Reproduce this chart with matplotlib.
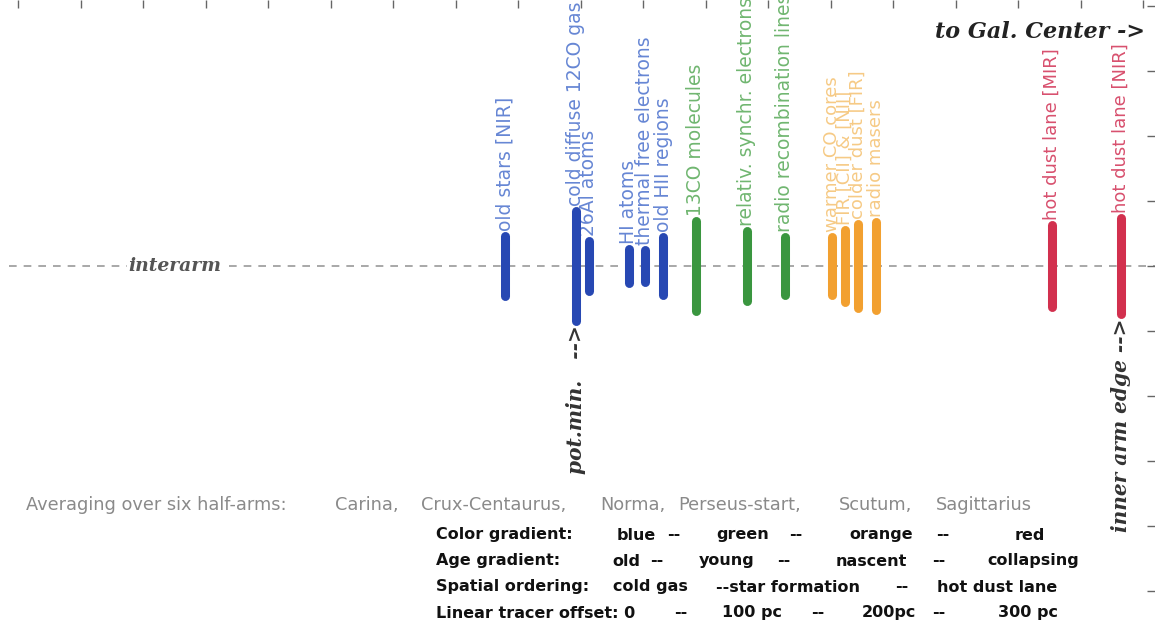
import numpy as np
import matplotlib
matplotlib.use("Agg")
import matplotlib.pyplot as plt

# tracers: offset from potential minimum (pc), half-extent of bar (arb. units)
tracers = ["old stars [NIR]", "cold diffuse 12CO gas", "26Al atoms", "HI atoms",
           "thermal free electrons", "old HII regions", "13CO molecules",
           "relativ. synchr. electrons", "radio recombination lines",
           "warmer CO cores", "FIR [CII] & [NII]", "colder dust [FIR]",
           "radio masers", "hot dust lane [MIR]", "hot dust lane [NIR]"]
offsets = [-39, 0, 7, 29, 38, 48, 66, 94, 115, 141, 148, 155, 165, 262, 300]
half_len = [30, 55, 25, 17, 16, 29, 45, 35, 29, 29, 36, 42, 44, 41, 48]
groups = ["blue", "blue", "blue", "blue", "blue", "blue", "green", "green", "green",
          "orange", "orange", "orange", "orange", "red", "red"]

bar_colors = {"blue": "#2748b3", "green": "#3a963f", "orange": "#f2a030", "red": "#d2304e"}
label_colors = {"blue": "#6686d4", "green": "#70b670", "orange": "#f6ca85", "red": "#d8506e"}
label_sizes = {"blue": 13.5, "green": 13.5, "orange": 13, "red": 13}

arms = ["Averaging over six half-arms:", "Carina,", "Crux-Centaurus,", "Norma,",
        "Perseus-start,", "Scutum,", "Sagittarius"]
arms_x = [26, 335, 421, 600, 678, 839, 936]

rows = [
    ["Color gradient:", "blue", "--", "green", "--", "orange", "--", "red"],
    ["Age gradient:", "old", "--", "young", "--", "nascent", "--", "collapsing"],
    ["Spatial ordering:", "cold gas", "--star formation", "--", "hot dust lane"],
    ["Linear tracer offset: 0", "--", "100 pc", "--", "200pc", "--", "300 pc"],
]
rows_x = [
    [436, 617, 667, 716, 789, 849, 936, 1015],
    [436, 612, 650, 699, 777, 836, 932, 987],
    [436, 613, 716, 895, 937],
    [436, 674, 722, 811, 862, 932, 998],
]
rows_y = [535, 561, 587, 613]

W, H = 1155, 625
fig = plt.figure(figsize=(W / 100, H / 100), dpi=100)
ax = fig.add_axes([0, 0, 1, 1])
ax.set_xlim(-317, 318.7)
ax.set_ylim(-359, 266)
for s in ax.spines.values():
    s.set_visible(False)

# interarm reference line
ax.axhline(0, xmin=0.008, color="#9a9a9a", lw=1.2, ls=(0, (4.6, 4.2)), zorder=1)
ax.text(-221, 0, "interarm", fontsize=13.5, family="DejaVu Serif", style="italic",
        weight="bold", color="#555555", ha="center", va="center", zorder=2,
        bbox=dict(facecolor="white", edgecolor="none", pad=1))

for name, x, h, g in zip(tracers, offsets, half_len, groups):
    ax.plot([x, x], [-h, h], color=bar_colors[g], lw=6.5, solid_capstyle="round", zorder=3)
    ax.text(x, h + 5, name, rotation=90, ha="center", va="bottom", fontsize=label_sizes[g],
            color=label_colors[g], zorder=2)

# markers below the key bars
ax.text(offsets[1], -half_len[1] - 4, "pot.min.   -->", rotation=90, ha="center", va="top",
        fontsize=14.5, family="DejaVu Serif", style="italic", weight="bold", color="#333333")
ax.text(offsets[-1], -half_len[-1] - 4, "inner arm edge -->", rotation=90, ha="center",
        va="top", fontsize=14.5, family="DejaVu Serif", style="italic", weight="bold",
        color="#333333")
fig.text(935 / W, 1 - 32 / H, "to Gal. Center ->", fontsize=16, family="DejaVu Serif",
         style="italic", weight="bold", color="#222222", ha="left", va="center")

# axis ticks (top and right, pointing inward)
ax.set_xticks(np.arange(-307, 320, 34.4))
ax.set_yticks(np.arange(-325, 266, 65))
ax.tick_params(axis="both", which="both", direction="in", length=5.5, width=1,
               color="#666666", top=True, right=True, bottom=False, left=False,
               labeltop=False, labelright=False, labelbottom=False, labelleft=False)

for t, x in zip(arms, arms_x):
    fig.text(x / W, 1 - 505 / H, t, fontsize=12.8, color="#8a8a8a", ha="left", va="center")

for row, xs, y in zip(rows, rows_x, rows_y):
    for t, x in zip(row, xs):
        fig.text(x / W, 1 - y / H, t, fontsize=11.5, color="#111111", ha="left", va="center",
                 weight="bold")

fig.savefig("out.png", dpi=100)
